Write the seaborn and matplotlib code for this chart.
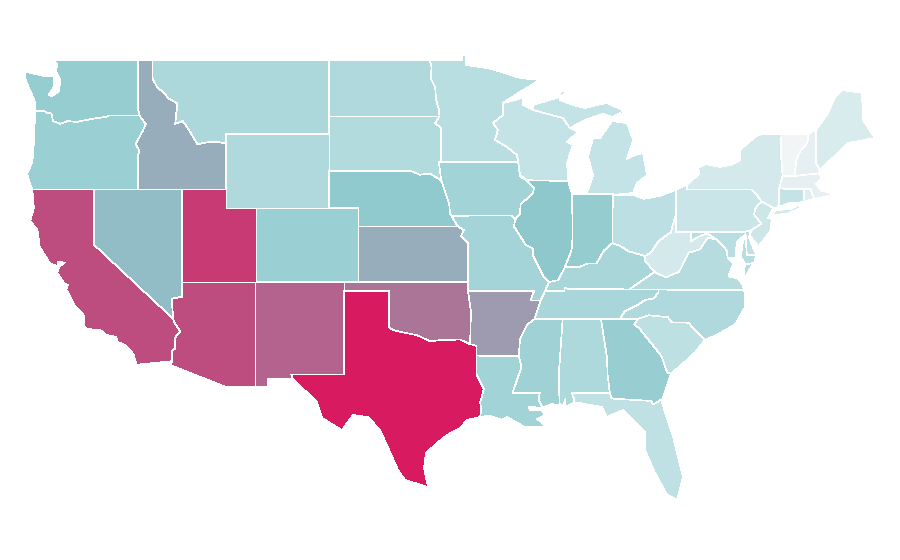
# -*- coding: utf-8 -*-
# US states choropleth, outlines are rough lon/lat
import matplotlib
matplotlib.use('Agg')
import matplotlib.pyplot as plt
import seaborn as sns

# shared border stretches (lon, lat)
columbia = [(-124.0,46.25),(-123.4,46.25),(-123.2,46.15),(-122.9,46.1),(-122.8,45.7),(-122.3,45.55),(-121.8,45.7),(-121.2,45.65),(-120.6,45.75),(-119.9,45.85),(-119.2,45.93),(-118.98,46.0),(-116.92,46.0)]
snake = [(-116.92,46.0),(-116.78,45.83),(-116.5,45.55),(-116.69,45.2),(-116.85,44.95),(-117.2,44.45),(-117.03,44.25),(-116.93,44.1),(-117.03,43.83)]
bitterroot = [(-116.05,48.0),(-115.7,47.5),(-115.3,47.25),(-114.95,46.92),(-114.35,46.65),(-114.45,46.0),(-114.5,45.55),(-114.0,45.7),(-113.8,45.5),(-113.45,45.05),(-113.0,44.45),(-112.3,44.55),(-111.5,44.55),(-111.05,44.48)]
colorado_river = [(-114.72,32.72),(-114.72,33.3),(-114.5,33.4),(-114.53,33.9),(-114.43,34.1),(-114.14,34.3),(-114.57,34.83),(-114.63,35.0)]
red_river = [(-100.0,34.56),(-99.7,34.4),(-99.2,34.3),(-98.1,34.13),(-97.7,33.98),(-97.2,33.8),(-96.6,33.85),(-96.0,33.85),(-95.2,33.9),(-94.48,33.64)]
mississippi_low = [(-91.17,33.0),(-91.1,33.9),(-90.6,34.7),(-90.1,35.0),(-89.7,36.0)]
missouri_up = [(-95.31,40.0),(-95.85,40.7),(-95.9,41.2),(-96.1,41.7),(-96.45,42.49)]
red_north = [(-97.23,49.0),(-97.1,48.6),(-97.15,48.0),(-96.85,47.5),(-96.8,46.9),(-96.6,46.3),(-96.56,45.94)]
miss_il = [(-89.13,37.0),(-89.5,37.3),(-90.2,38.4),(-90.2,38.8),(-90.7,39.0),(-91.5,40.0),(-91.42,40.38)]
miss_ia = [(-91.42,40.38),(-91.1,40.7),(-91.05,41.2),(-90.2,41.8),(-90.15,42.1),(-90.65,42.5),(-91.1,42.7),(-91.22,43.5)]
st_croix = [(-92.25,46.68),(-92.25,46.03),(-92.93,45.59),(-92.6,45.22),(-92.79,44.68),(-91.98,44.3),(-91.3,43.86),(-91.22,43.5)]
mi_wi = [(-90.21,46.3),(-88.18,45.86),(-87.7,45.32)]
ohio_ky_in = [(-88.05,37.8),(-87.1,37.8),(-86.5,38.0),(-85.9,38.0),(-85.4,38.7),(-84.82,39.1)]
ohio_ky_oh = [(-84.82,39.1),(-84.3,38.95),(-83.7,38.65),(-82.6,38.4)]
ohio_wv = [(-82.6,38.4),(-82.2,38.6),(-81.7,39.2),(-80.85,39.7),(-80.52,40.64)]
tn_nc = [(-84.32,34.99),(-84.0,35.4),(-83.1,35.77),(-82.6,36.03),(-82.0,36.12),(-81.7,36.45),(-81.68,36.59)]
savannah = [(-83.1,35.0),(-83.35,34.7),(-83.0,34.5),(-82.0,33.5),(-81.5,33.0),(-81.1,32.1),(-80.85,32.03)]
wv_va = [(-81.97,37.54),(-81.2,37.25),(-80.3,37.55),(-79.65,38.58),(-78.87,38.77),(-78.35,39.4),(-77.75,39.3)]
potomac_wv = [(-79.48,39.2),(-79.0,39.45),(-78.4,39.62),(-77.75,39.3)]
potomac_va = [(-77.75,39.3),(-77.5,39.1),(-77.05,38.7),(-77.0,38.3)]
ct_river = [(-71.5,45.01),(-71.6,44.5),(-72.05,44.1),(-72.33,43.6),(-72.46,42.73)]
delaware = [(-74.7,41.36),(-75.13,40.97),(-75.2,40.65),(-74.72,40.15),(-75.4,39.8)]

# state outlines, each a list of rings
WA = [[(-117.03,49.0),(-122.72,49.0),(-122.5,48.75),(-122.6,48.4),(-122.3,47.9),(-122.4,47.3),(-122.85,47.05),(-123.1,47.1),(-122.7,47.6),(-122.75,48.1),(-123.5,48.15),(-124.73,48.38),(-124.65,47.9),(-124.35,47.35),(-124.1,46.9),(-124.0,46.6)]+columbia+[(-117.04,46.4)]]
OR = [columbia+snake+[(-117.03,42.0),(-124.2,42.0),(-124.4,42.4),(-124.55,42.84),(-124.2,43.5),(-124.1,44.5),(-124.05,45.5)]]
CA = [[(-124.2,42.0),(-120.0,42.0),(-120.0,39.0),(-114.63,35.0)]+colorado_river[::-1]+[(-117.12,32.53),(-117.25,32.85),(-117.33,33.1),(-117.9,33.6),(-118.4,33.75),(-118.5,34.03),(-119.2,34.15),(-119.6,34.42),(-120.47,34.45),(-120.65,34.6),(-120.65,35.15),(-121.3,35.7),(-121.9,36.6),(-121.8,36.85),(-122.05,36.95),(-122.5,37.5),(-122.4,37.8),(-122.0,38.05),(-122.5,38.1),(-122.5,37.85),(-123.0,38.0),(-123.7,38.9),(-123.85,39.8),(-124.35,40.3),(-124.1,41.0)]]
NV = [[(-120.0,42.0),(-114.05,42.0),(-114.05,36.2),(-114.75,36.1),(-114.63,35.0),(-120.0,39.0)]]
ID = [[(-117.03,49.0),(-116.05,49.0)]+bitterroot+[(-111.05,42.0),(-117.03,42.0)]+snake[::-1]+[(-117.04,46.4)]]
MT = [[(-116.05,49.0),(-104.05,49.0),(-104.05,45.0),(-111.05,45.0)]+bitterroot[::-1]]
WY = [[(-111.05,45.0),(-104.05,45.0),(-104.05,41.0),(-111.05,41.0)]]
UT = [[(-114.05,42.0),(-111.05,42.0),(-111.05,41.0),(-109.05,41.0),(-109.05,37.0),(-114.05,37.0)]]
AZ = [[(-114.05,37.0),(-109.05,37.0),(-109.05,31.33),(-111.07,31.33),(-114.81,32.5)]+colorado_river+[(-114.75,36.1),(-114.05,36.2)]]
CO = [[(-109.05,41.0),(-102.05,41.0),(-102.05,37.0),(-109.05,37.0)]]
NM = [[(-109.05,37.0),(-103.0,37.0),(-103.04,32.0),(-106.62,32.0),(-106.53,31.78),(-108.21,31.78),(-108.21,31.33),(-109.05,31.33)]]
ND = [red_north+[(-104.05,45.94),(-104.05,49.0)]]
SD = [[(-104.05,45.94),(-96.56,45.94),(-96.85,45.6),(-96.45,45.3),(-96.45,43.5),(-96.6,43.5),(-96.45,42.49),(-97.2,42.85),(-97.9,42.8),(-98.5,43.0),(-104.05,43.0)]]
NE = [[(-104.05,43.0),(-98.5,43.0),(-97.9,42.8),(-97.2,42.85)]+missouri_up[::-1]+[(-102.05,40.0),(-102.05,41.0),(-104.05,41.0)]]
KS = [[(-102.05,40.0),(-95.31,40.0),(-94.9,39.8),(-95.1,39.5),(-94.61,39.1),(-94.62,37.0),(-102.05,37.0)]]
OK = [[(-103.0,37.0),(-94.62,37.0),(-94.62,36.5),(-94.43,35.4)]+red_river[::-1]+[(-100.0,36.5),(-103.0,36.5)]]
TX = [[(-103.04,36.5),(-100.0,36.5)]+red_river+[(-94.04,33.55),(-94.04,32.0),(-93.55,31.2),(-93.8,30.5),(-93.72,30.1),(-93.81,29.7),(-94.69,29.54),(-95.17,29.11),(-96.05,28.73),(-96.73,28.3),(-97.48,27.76),(-97.61,26.92),(-97.34,25.92),(-98.9,26.3),(-99.38,26.84),(-99.92,27.81),(-100.6,29.0),(-101.41,29.7),(-102.43,29.81),(-103.18,29.0),(-104.54,29.65),(-104.88,30.51),(-106.53,31.78),(-106.62,32.0),(-103.04,32.0)]]
MN = [red_north[:1]+[(-95.03,49.0),(-95.03,49.27),(-94.76,49.27),(-94.76,48.73),(-93.34,48.57),(-92.32,48.35),(-91.1,48.03),(-89.74,47.92),(-91.1,47.27)]+st_croix+[(-96.45,43.5),(-96.45,45.3),(-96.85,45.6)]+red_north[:0:-1]]
IA = [[(-96.6,43.5),(-91.22,43.5)]+miss_ia[-2::-1]+[(-91.7,40.6),(-95.77,40.58)]+missouri_up[1:]]
MO = [[(-95.77,40.58),(-91.7,40.6)]+miss_il[::-1]+[(-89.4,36.5),(-89.7,36.0),(-90.37,36.0),(-90.15,36.5),(-94.62,36.5),(-94.62,37.0),(-94.61,39.1),(-95.1,39.5),(-94.9,39.8),(-95.31,40.0)]]
AR = [[(-94.62,36.5),(-90.15,36.5),(-90.37,36.0)]+mississippi_low[::-1]+[(-94.04,33.02),(-94.04,33.55),(-94.48,33.64),(-94.43,35.4)]]
LA = [[(-94.04,33.02),(-91.17,33.0),(-91.0,32.4),(-91.6,31.0),(-89.75,31.0),(-89.85,30.65),(-89.55,30.2),(-90.5,30.25),(-90.4,30.05),(-89.6,30.05),(-89.4,29.8),(-89.94,29.6),(-89.26,29.16),(-90.76,29.16),(-91.98,29.7),(-92.3,29.55),(-93.2,29.78),(-93.81,29.7),(-93.72,30.1),(-93.8,30.5),(-93.55,31.2),(-94.04,32.0)]]
MS = [[(-90.1,35.0),(-88.2,35.0),(-88.47,31.9),(-88.4,30.35),(-89.0,30.4),(-89.55,30.2),(-89.85,30.65),(-89.75,31.0),(-91.6,31.0),(-91.0,32.4)]+mississippi_low[:3]]
TN = [[(-90.1,35.0),(-89.7,36.0),(-89.4,36.5),(-88.07,36.5),(-88.07,36.68),(-87.85,36.63),(-83.68,36.6)]+tn_nc[::-1]+[(-88.2,35.0)]]
KY = [[(-89.4,36.5),(-89.13,37.0),(-88.5,37.1)]+ohio_ky_in+ohio_ky_oh[1:]+[(-82.6,38.15),(-81.97,37.54),(-83.68,36.6),(-87.85,36.63),(-88.07,36.68),(-88.07,36.5)]]
IL = [[(-90.65,42.5),(-87.83,42.46),(-87.55,41.72),(-87.53,39.35),(-87.6,38.7),(-88.05,37.8),(-88.5,37.1)]+miss_il+miss_ia[1:6]]
IN = [[(-87.55,41.72),(-87.2,41.76),(-84.8,41.76)]+ohio_ky_in[::-1]+[(-87.6,38.7),(-87.53,39.35)]]
OH = [[(-84.8,41.72),(-83.45,41.72),(-82.7,41.5),(-81.6,41.65),(-80.52,41.98)]+ohio_wv[::-1]+ohio_ky_oh[-2::-1]]
MI = [[(-86.61,41.76),(-84.78,41.7),(-83.42,41.81),(-83.15,42.35),(-82.47,42.78),(-82.74,43.97),(-83.29,43.86),(-83.83,43.65),(-83.42,44.68),(-83.83,45.59),(-84.85,45.7),(-85.19,45.32),(-85.66,44.78),(-86.14,44.78),(-86.48,43.76),(-86.14,42.78),(-86.41,42.08)],
      mi_wi+[(-86.68,45.76),(-85.46,46.08),(-84.85,45.92),(-84.31,46.14),(-84.1,46.03),(-84.17,46.3),(-85.19,46.68),(-85.87,46.57),(-86.68,46.41),(-87.5,46.57),(-88.38,46.84),(-88.38,47.27),(-87.84,47.38),(-88.24,47.05),(-89.06,46.84),(-90.2,46.57)],
      [(-89.13,47.86),(-88.66,48.03),(-88.9,47.9)]]
WI = [[(-92.25,46.68),(-90.9,46.95),(-90.9,46.57)]+mi_wi+[(-87.16,45.11),(-87.9,44.57),(-87.5,44.41),(-87.9,43.43),(-87.83,42.46),(-90.55,42.46),(-91.1,42.78)]+st_croix[:0:-1]]
NY = [[(-79.76,42.27),(-79.76,42.0),(-75.35,42.0),(-75.05,41.75),(-74.7,41.36),(-73.9,41.0),(-73.65,41.0),(-73.5,41.2),(-73.5,42.05),(-73.27,42.75),(-73.35,43.6),(-73.4,44.0),(-73.34,45.01),(-74.7,45.0),(-75.14,44.84),(-76.16,44.14),(-76.16,43.59),(-76.7,43.35),(-77.52,43.22),(-78.5,43.37),(-79.01,43.16),(-78.9,42.85)],
      [(-74.03,40.6),(-73.75,40.87),(-72.6,40.97),(-72.3,41.15),(-71.87,41.07),(-72.9,40.7)]]
PA = [[(-80.52,41.98),(-79.76,42.27),(-79.76,42.0),(-75.35,42.0),(-75.05,41.75)]+delaware+[(-75.79,39.72),(-80.52,39.72)]]
NJ = [[(-74.7,41.36),(-73.9,41.0),(-74.25,40.47),(-74.0,40.4),(-74.1,39.75),(-74.9,38.93),(-75.5,39.5),(-75.4,39.8)]+delaware[-2:0:-1]]
DE = [[(-75.79,39.72),(-75.4,39.8),(-75.55,39.4),(-75.05,38.45),(-75.7,38.46)]]
MD = [[(-79.48,39.72),(-75.79,39.72),(-75.7,38.46),(-75.05,38.45),(-75.2,38.03),(-75.8,37.95),(-76.1,38.35),(-76.0,39.0),(-75.85,39.54),(-76.35,39.16),(-76.45,38.62),(-76.4,38.3),(-77.0,38.3)]+potomac_va[-2::-1]+potomac_wv[-2::-1]]
WV = [[(-80.52,40.64),(-80.52,39.72),(-79.48,39.72)]+potomac_wv+wv_va[-2::-1]+[(-82.6,38.15)]+ohio_wv]
VA = [[(-83.68,36.6)]+wv_va+potomac_va[1:]+[(-76.6,38.0),(-76.95,37.3),(-76.3,37.2),(-76.0,36.85),(-75.87,36.55),(-81.68,36.59)],
      [(-75.8,37.95),(-75.25,38.03),(-75.85,37.2),(-75.9,37.7)]]
NC = [tn_nc+[(-75.87,36.55),(-75.82,35.65),(-76.5,34.7),(-77.6,34.2),(-78.55,33.86),(-79.67,34.8),(-80.8,34.82),(-81.05,35.1),(-82.35,35.2),(-83.1,35.0)]]
SC = [[(-82.35,35.2),(-81.05,35.1),(-80.8,34.82),(-79.67,34.8),(-78.55,33.86),(-79.2,33.2),(-79.9,32.7),(-80.85,32.03)]+savannah[-2::-1]]
GA = [[(-85.6,35.0),(-84.32,34.99)]+savannah+[(-81.4,30.7),(-82.05,30.37),(-82.2,30.57),(-84.86,30.7),(-85.0,31.0),(-85.15,32.0),(-85.18,32.87)]]
AL = [[(-88.2,35.0),(-85.6,35.0),(-85.18,32.87),(-85.15,32.0),(-85.0,31.0),(-87.6,31.0),(-87.4,30.65),(-87.5,30.45),(-88.0,30.25),(-88.0,30.7),(-88.15,30.35),(-88.4,30.35),(-88.47,31.9)]]
FL = [[(-87.6,31.0),(-85.0,31.0),(-84.86,30.7),(-82.2,30.57),(-82.05,30.37),(-81.45,30.7),(-81.45,30.46),(-80.7,28.62),(-80.03,26.46),(-80.43,25.22),(-81.1,25.49),(-81.93,26.68),(-82.6,27.9),(-82.6,28.9),(-83.4,29.54),(-84.1,30.08),(-85.2,29.7),(-85.53,30.24),(-87.0,30.45),(-87.5,30.45),(-87.4,30.65)]]
ME = [[(-71.0,45.22),(-70.18,46.14),(-69.7,47.0),(-69.24,47.38),(-67.88,47.22),(-67.81,45.76),(-67.0,44.78),(-68.83,44.51),(-70.73,43.05),(-70.98,43.4)]]
NH = [[(-71.5,45.01),(-71.0,45.22),(-70.98,43.4),(-70.73,43.05),(-70.82,42.87)]+ct_river[:0:-1]]
VT = [[(-73.34,45.01)]+ct_river+[(-73.27,42.75),(-73.35,43.6),(-73.4,44.0)]]
MA = [[(-73.5,42.05),(-73.27,42.75),(-72.46,42.73),(-70.82,42.87),(-70.6,42.65),(-71.0,42.3),(-70.65,41.95),(-70.05,41.8),(-70.05,42.05),(-69.95,41.7),(-70.65,41.55),(-71.13,41.5),(-71.38,42.02),(-71.8,42.02)]]
CT = [[(-73.5,42.05),(-71.8,42.02),(-71.85,41.32),(-72.9,41.25),(-73.65,41.0),(-73.5,41.2)]]
RI = [[(-71.8,42.02),(-71.38,42.02),(-71.13,41.5),(-71.85,41.32)]]

outlines = {'WA':WA,'OR':OR,'CA':CA,'NV':NV,'ID':ID,'MT':MT,'WY':WY,'UT':UT,'AZ':AZ,'CO':CO,'NM':NM,'ND':ND,'SD':SD,'NE':NE,'KS':KS,'OK':OK,'TX':TX,'MN':MN,'IA':IA,'MO':MO,'AR':AR,'LA':LA,'MS':MS,'TN':TN,'KY':KY,'IL':IL,'IN':IN,'OH':OH,'MI':MI,'WI':WI,'NY':NY,'PA':PA,'NJ':NJ,'DE':DE,'MD':MD,'WV':WV,'VA':VA,'NC':NC,'SC':SC,'GA':GA,'AL':AL,'FL':FL,'ME':ME,'NH':NH,'VT':VT,'MA':MA,'CT':CT,'RI':RI}

state_codes = ['VT','NH','MA','RI','ME','NY','WV','PA','NJ','CT','WI','MI','OH','MN','FL','DE','MD','SC','VA','ND','SD','WY','NC','AL','MT','TN','KY','MO','IA','LA','MS','CO','OR','GA','WA','IN','NE','IL','NV','KS','ID','AR','OK','NM','CA','AZ','UT','TX']
state_values = [0.0,0.06,0.06,0.09,0.13,0.15,0.15,0.20,0.18,0.23,0.23,0.23,0.27,0.28,0.25,0.25,0.28,0.26,0.30,0.33,0.32,0.33,0.33,0.34,0.35,0.36,0.37,0.39,0.40,0.40,0.41,0.44,0.44,0.45,0.46,0.47,0.49,0.50,0.535,0.58,0.58,0.63,0.74,0.79,0.855,0.855,0.91,1.0]

sns.set_theme(style='white')
cmap = sns.blend_palette(['#f2f5f6','#bfe1e4','#8ec9cd','#ac7296','#d81b60'], as_cmap=True)

fig = plt.figure(figsize=(9,5.6), dpi=100)
ax = fig.add_axes([0,0,1,1])

for code, val in zip(state_codes, state_values):
    for ring in outlines[code]:
        lons = [p[0] for p in ring]
        lats = [p[1] for p in ring]
        ax.fill(lons, lats, facecolor=cmap(val), edgecolor='white', lw=0.5, antialiased=False, joinstyle='round')

# plate carree stretched to the picture
ax.set_xlim(-126.397, -65.298)
ax.set_ylim(21.973, 52.243)
ax.set_axis_off()
plt.savefig('out.png', dpi=100)
